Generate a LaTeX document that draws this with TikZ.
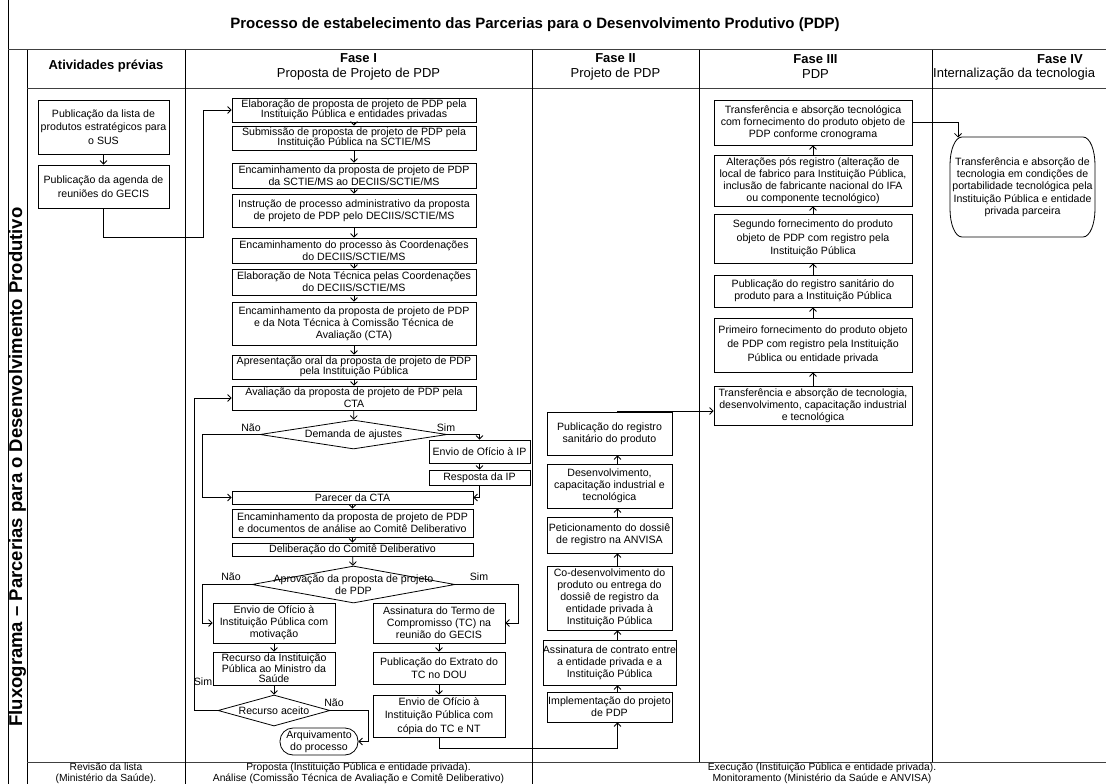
\documentclass[tikz,border=0pt]{standalone}
\usepackage{fontspec}
\setmainfont{Liberation Sans}
\usetikzlibrary{arrows.meta, positioning, shapes.geometric}

\begin{document}
\begin{tikzpicture}[
        x=1pt, y=-1pt,
        >={Straight Barb[length=3.5pt,width=7pt]},
        block/.style={rectangle, draw, fill=white, line width=0.8pt, align=center, inner sep=0pt,
            font=\fontsize{10.6}{12}\selectfont},
        tight/.style={font=\fontsize{10.6}{10.5}\selectfont},
        loose/.style={font=\fontsize{10.6}{13.5}\selectfont},
        decision/.style={diamond, draw, fill=white, line width=0.8pt, inner sep=0pt},
        terminal/.style={block, rounded corners=13pt},
        lbl/.style={inner sep=0pt, font=\fontsize{10.6}{12}\selectfont},
        head/.style={align=center, inner sep=0pt, font=\fontsize{13}{15}\selectfont},
        foot/.style={align=center, inner sep=0pt, font=\fontsize{10.3}{11}\selectfont},
        every label/.style={align=center, inner sep=0pt, font=\fontsize{10.6}{12}\selectfont},
        frame/.style={line width=1pt},
        flow/.style={->, line width=0.8pt}
    ]
    \useasboundingbox (0,0) rectangle (1106,784);

    % table
    \draw[frame] (8,0) -- (8,784);
    \draw[frame] (27,50) -- (27,784);
    \draw[frame, black!75] (8,50) -- (1106,50);
    \draw[frame, black!75] (27,89) -- (1106,89);
    \draw[frame, black!75] (27,762) -- (1106,762);
    \draw[frame] (185,50) -- (185,784);
    \draw[frame] (532,50) -- (532,784);
    \draw[frame] (699,50) -- (699,762);
    \draw[frame] (932,50) -- (932,762);

    \node[font=\bfseries\fontsize{15}{18}\selectfont] (title) at (535,25)
        {Processo de estabelecimento das Parcerias para o Desenvolvimento Produtivo (PDP)};
    \node[rotate=90, font=\bfseries\fontsize{18.5}{20}\selectfont] (side) at (17.5,467)
        {Fluxograma -- Parcerias para o Desenvolvimento Produtivo};

    \node[head, font=\bfseries\fontsize{13}{15}\selectfont] (h0) at (106,66) {Atividades prévias};
    \node[head] (h1) at (358.5,66.5) {\textbf{Fase I}\\Proposta de Projeto de PDP};
    \node[head] (h2) at (615.5,66.5) {\textbf{Fase II}\\Projeto de PDP};
    \node[head] (h3) at (815.5,66.5) {\textbf{Fase III}\\PDP};
    \node[head] (h4) at (1060,59) {\textbf{Fase IV}};
    \node[head, anchor=west] (h4b) at (933,74) {Internalização da tecnologia};

    \node[foot] (b0) at (106,773.5) {Revisão da lista\\(Ministério da Saúde).};
    \node[foot] (b1) at (358.5,773.5) {Proposta (Instituição Pública e entidade privada).\\Análise (Comissão Técnica de Avaliação e Comitê Deliberativo)};
    \node[foot] (b2) at (822,773.5) {Execução (Instituição Pública e entidade privada).\\Monitoramento (Ministério da Saúde e ANVISA)};

    % atividades previas
    \node[block, loose, minimum width=131, minimum height=54] (a1) at (103.5,127)
        {Publicação da lista de\\produtos estratégicos para\\o SUS};
    \node[block, loose, minimum width=131, minimum height=43] (a2) at (103.5,186.5)
        {Publicação da agenda de\\reuniões do GECIS};

    % fase I
    \node[block, tight, minimum width=244, minimum height=24] (f1) at (354,110)
        {Elaboração de proposta de projeto de PDP pela\\Instituição Pública e entidades privadas};
    \node[block, tight, minimum width=244, minimum height=24] (f2) at (354,138)
        {Submissão de proposta de projeto de PDP pela\\Instituição Pública na SCTIE/MS};
    \node[block, minimum width=244, minimum height=25] (f3) at (354,175.5)
        {Encaminhamento da proposta de projeto de PDP\\da SCTIE/MS ao DECIIS/SCTIE/MS};
    \node[block, minimum width=244, minimum height=33] (f4) at (354,210.5)
        {Instrução de processo administrativo da proposta\\de projeto de PDP pelo DECIIS/SCTIE/MS};
    \node[block, minimum width=244, minimum height=25] (f5) at (354,250.5)
        {Encaminhamento do processo às Coordenações\\do DECIIS/SCTIE/MS};
    \node[block, minimum width=244, minimum height=26] (f6) at (354,282)
        {Elaboração de Nota Técnica pelas Coordenações\\do DECIIS/SCTIE/MS};
    \node[block, minimum width=244, minimum height=43] (f7) at (354,323.5)
        {Encaminhamento da proposta de projeto de PDP\\e da Nota Técnica à Comissão Técnica de\\Avaliação (CTA)};
    \node[block, tight, minimum width=244, minimum height=24] (f8) at (354,367)
        {Apresentação oral da proposta de projeto de PDP\\pela Instituição Pública};
    \node[block, minimum width=244, minimum height=24] (f9) at (354,398)
        {Avaliação da proposta de projeto de PDP pela\\CTA};
    \node[decision, minimum width=187, minimum height=29, label=center:{Demanda de ajustes}] (d1) at (353.5,434.5) {};
    \node[block, minimum width=101, minimum height=23] (e1) at (479.5,451.5) {Envio de Ofício à IP};
    \node[block, minimum width=101, minimum height=15] (e2) at (479.5,477.5) {Resposta da IP};
    \node[block, minimum width=241, minimum height=13] (f10) at (352.5,497.5) {Parecer da CTA};
    \node[block, minimum width=241, minimum height=28] (f11) at (352.5,523)
        {Encaminhamento da proposta de projeto de PDP\\e documentos de análise ao Comitê Deliberativo};
    \node[block, minimum width=241, minimum height=13] (f12) at (352.5,549.5) {Deliberação do Comitê Deliberativo};
    \node[decision, minimum width=203, minimum height=37, label=center:{Aprovação da proposta de projeto\\de PDP}] (d2) at (353.5,584.5) {};
    \node[block, minimum width=122, minimum height=40] (eo) at (274,623)
        {Envio de Ofício à\\Instituição Pública com\\motivação};
    \node[block, minimum width=132, minimum height=40] (at) at (439,623)
        {Assinatura do Termo de\\Compromisso (TC) na\\reunião do GECIS};
    \node[block, tight, minimum width=122, minimum height=33] (ri) at (274,668.5)
        {Recurso da Instituição\\Pública ao Ministro da\\Saúde};
    \node[block, loose, minimum width=132, minimum height=32] (pe) at (439,668)
        {Publicação do Extrato do\\TC no DOU};
    \node[decision, minimum width=112, minimum height=31, label=center:{Recurso aceito}] (d3) at (274,710.5) {};
    \node[block, loose, minimum width=132, minimum height=42] (en) at (439,716)
        {Envio de Ofício à\\Instituição Pública com\\cópia do TC e NT};
    \node[terminal, minimum width=78, minimum height=27] (arq) at (319,741.5)
        {Arquivamento\\do processo};

    \node[lbl] (n1) at (251,428) {Não};
    \node[lbl] (s1) at (446,428) {Sim};
    \node[lbl] (n2) at (231,577) {Não};
    \node[lbl] (s2) at (479,577) {Sim};
    \node[lbl] (n3) at (334,703) {Não};
    \node[lbl] (s3) at (203,682) {Sim};

    % fase II
    \node[block, minimum width=125, minimum height=43] (p1) at (609.5,433.5)
        {Publicação do registro\\sanitário do produto};
    \node[block, minimum width=125, minimum height=44] (p2) at (609.5,486)
        {Desenvolvimento,\\capacitação industrial e\\tecnológica};
    \node[block, minimum width=125, minimum height=36] (p3) at (609.5,535)
        {Peticionamento do dossiê\\de registro na ANVISA};
    \node[block, minimum width=125, minimum height=64] (p4) at (609.5,598)
        {Co-desenvolvimento do\\produto ou entrega do\\dossiê de registro da\\entidade privada à\\Instituição Pública};
    \node[block, minimum width=125, minimum height=45] (p5) at (609.5,662.5)
        {Assinatura de contrato entre\\a entidade privada e a\\Instituição Pública};
    \node[block, minimum width=125, minimum height=30] (p6) at (609.5,707)
        {Implementação do projeto\\de PDP};

    % fase III
    \node[block, minimum width=198, minimum height=39] (t1) at (813,405.5)
        {Transferência e absorção de tecnologia,\\desenvolvimento, capacitação industrial\\e tecnológica};
    \node[block, font=\fontsize{10.6}{14}\selectfont, minimum width=198, minimum height=54] (t2) at (813,345)
        {Primeiro fornecimento do produto objeto\\de PDP com registro pela Instituição\\Pública ou entidade privada};
    \node[block, minimum width=198, minimum height=32] (t3) at (813,291)
        {Publicação do registro sanitário do\\produto para a Instituição Pública};
    \node[block, loose, minimum width=198, minimum height=49] (t4) at (813,238.5)
        {Segundo fornecimento do produto\\objeto de PDP com registro pela\\Instituição Pública};
    \node[block, minimum width=198, minimum height=51] (t5) at (813,180.5)
        {Alterações pós registro (alteração de\\local de fabrico para Instituição Pública,\\inclusão de fabricante nacional do IFA\\ou componente tecnológico)};
    \node[block, minimum width=198, minimum height=45] (t6) at (813,122.5)
        {Transferência e absorção tecnológica\\com fornecimento do produto objeto de\\PDP conforme cronograma};

    % fase IV
    \draw[line width=0.8pt] (962,137) -- (1083,137) .. controls (1090,137) and (1095,150) .. (1095,165)
        -- (1095,209) .. controls (1095,224) and (1090,237) .. (1083,237)
        -- (962,237) .. controls (955,237) and (950,224) .. (950,209)
        -- (950,165) .. controls (950,150) and (955,137) .. (962,137) -- cycle;
    \node[align=center, inner sep=0pt, font=\fontsize{10.6}{12.3}\selectfont] (iv) at (1022.5,187)
        {Transferência e absorção de\\tecnologia em condições de\\portabilidade tecnológica pela\\Instituição Pública e entidade\\privada parceira};
    \coordinate (ivin) at (958,137.5);

    % connectors
    \draw[flow] (a1) -- (a2);
    \draw[flow] (a2.south) -- ++(0,29) -| ([xshift=-28pt]f1.west) -- (f1.west);

    \draw[flow] (f1) -- (f2);
    \draw[flow] (f2) -- (f3);
    \draw[flow] (f3) -- (f4);
    \draw[flow] (f4) -- (f5);
    \draw[flow] (f5) -- (f6);
    \draw[flow] (f6) -- (f7);
    \draw[flow] (f7) -- (f8);
    \draw[flow] (f8) -- (f9);
    \draw[flow] (f9) -- (d1);
    \draw[flow] (d1.west) -- ++(-57,0) |- (f10.west);
    \draw[flow] (d1.east) -| (e1.north);
    \draw[flow] (e1) -- (e2);
    \draw[flow] (e2.south) |- (f10.east);
    \draw[flow] (f10) -- (f11);
    \draw[flow] (f11) -- (f12);
    \draw[flow] (f12) -- (d2);
    \draw[flow] (d2.west) -- ++(-49,0) |- (eo.west);
    \draw[flow] (d2.east) -- ++(63,0) |- (at.east);
    \draw[flow] (eo) -- (ri);
    \draw[flow] (ri) -- (d3);
    \draw[flow] (d3.west) -- ++(-23,0) |- (f9.west);
    \draw[flow] (d3.east) -- ++(38,0) |- (arq.east);
    \draw[flow] (at) -- (pe);
    \draw[flow] (pe) -- (en);
    \draw[flow] (en.south) -- ++(0,11) -| ([xshift=8pt]p6.south);

    \draw[flow] ([xshift=8pt]p6.north) -- ([xshift=8pt]p5.south);
    \draw[flow] ([xshift=8pt]p5.north) -- ([xshift=8pt]p4.south);
    \draw[flow] ([xshift=8pt]p4.north) -- ([xshift=8pt]p3.south);
    \draw[flow] ([xshift=8pt]p3.north) -- ([xshift=8pt]p2.south);
    \draw[flow] ([xshift=8pt]p2.north) -- ([xshift=8pt]p1.south);
    \draw[flow] ([xshift=8pt]p1.north) |- ([yshift=-5.5pt]t1.west);

    \draw[flow] (t1) -- (t2);
    \draw[flow] (t2) -- (t3);
    \draw[flow] (t3) -- (t4);
    \draw[flow] (t4) -- (t5);
    \draw[flow] (t5) -- (t6);
    \draw[flow] (t6.east) -| (ivin);

\end{tikzpicture}
\end{document}
